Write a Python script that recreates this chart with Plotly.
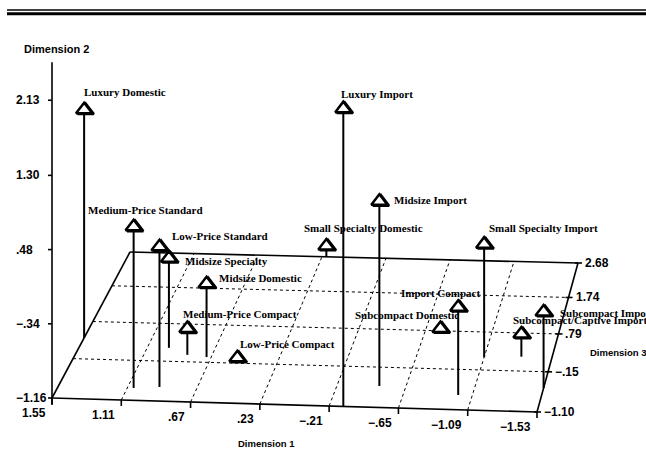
import plotly.graph_objects as go

# Car market segments positioned on three perceptual dimensions
segments = [
    "Luxury Domestic", "Medium-Price Standard", "Low-Price Standard", "Midsize Specialty",
    "Midsize Domestic", "Medium-Price Compact", "Low-Price Compact", "Luxury Import",
    "Midsize Import", "Small Specialty Domestic", "Small Specialty Import", "Import Compact",
    "Subcompact Domestic", "Subcompact Import", "Subcompact/Captive Import",
]
dim1 = [1.55, 1.07, 0.91, 0.97, 0.70, 0.83, 0.50, -0.30, -0.48, 0.20, -1.09, -1.00, -0.75, -1.53, -1.33]
dim2 = [1.36, 0.62, 0.39, -0.17, -0.35, -0.87, -1.16, 2.13, 0.88, -1.04, 0.09, -0.19, -1.13, -0.32, -0.91]
dim3 = [0.37, -0.81, -0.77, 0.18, -0.02, 0.02, -0.02, -1.10, -0.60, 2.68, 0.16, -0.76, 0.78, -0.54, 0.20]

dim1_ticks = [1.55, 1.11, 0.67, 0.23, -0.21, -0.65, -1.09, -1.53]
dim1_labels = ["1.55", "1.11", ".67", ".23", "\u2212.21", "\u2212.65", "\u22121.09", "\u22121.53"]
dim2_ticks = [2.13, 1.30, 0.48, -0.34, -1.16]
dim2_labels = ["2.13", "1.30", ".48", "\u2212.34", "\u22121.16"]
dim3_ticks = [-1.10, -0.15, 0.79, 1.74, 2.68]
dim3_labels = ["\u22121.10", "\u2212.15", ".79", "1.74", "2.68"]

# label placement relative to each marker (pixels: right, down)
label_shift = [(-2, -18), (-48, -17), (11, -11), (14, 3), (10, -6), (-6, -15), (1, -14), (-4, -15),
               (13, -1), (-24, -18), (3, -16), (-59, -14), (-87, -13), (14, 1), (-10, -14)]

D1_MIN, D1_MAX = min(dim1_ticks), max(dim1_ticks)
D2_MIN, D2_MAX = min(dim2_ticks), max(dim2_ticks)
D3_MIN, D3_MAX = min(dim3_ticks), max(dim3_ticks)

# oblique view of the floor (front-left, front-right, back-left, back-right), in page pixels
FL, FR, BL, BR = (52, 398), (537, 412), (130, 252), (578, 263)
DEPTH = 1.1        # foreshortening toward the back
Z_PX = 90.5        # pixels per unit of dimension 2


def floor_xy(d1, d3):
    u = (D1_MAX - d1) / (D1_MAX - D1_MIN)
    t = (d3 - D3_MIN) / (D3_MAX - D3_MIN)
    v = t * DEPTH / ((1 - t) + t * DEPTH)
    x = (1 - u) * (1 - v) * FL[0] + u * (1 - v) * FR[0] + (1 - u) * v * BL[0] + u * v * BR[0]
    y = (1 - u) * (1 - v) * FL[1] + u * (1 - v) * FR[1] + (1 - u) * v * BL[1] + u * v * BR[1]
    return x, y


def point_xy(d1, d2, d3):
    x, y = floor_xy(d1, d3)
    return x, y - (d2 - D2_MIN) * Z_PX


def seg_trace(segs, width, dash="solid"):
    xs, ys = [], []
    for (x0, y0), (x1, y1) in segs:
        xs += [x0, x1, None]
        ys += [y0, y1, None]
    return go.Scatter(x=xs, y=ys, mode="lines", hoverinfo="skip", showlegend=False,
                      line=dict(color="black", width=width, dash=dash))


fig = go.Figure()

# dotted floor grid
grid = []
for d in dim1_ticks[1:-1]:
    grid.append((floor_xy(d, D3_MIN), floor_xy(d, D3_MAX)))
for d in dim3_ticks[1:-1]:
    grid.append((floor_xy(D1_MAX, d), floor_xy(D1_MIN, d)))
fig.add_trace(seg_trace(grid, 1, "dot"))

# floor outline
corners = [floor_xy(D1_MAX, D3_MIN), floor_xy(D1_MIN, D3_MIN),
           floor_xy(D1_MIN, D3_MAX), floor_xy(D1_MAX, D3_MAX)]
outline = [(corners[i], corners[(i + 1) % 4]) for i in range(4)]
fig.add_trace(seg_trace(outline, 1.6))

# vertical axis with ticks
ax_x, ax_y0 = floor_xy(D1_MAX, D3_MIN)
axis = [((ax_x, ax_y0 + 7), (ax_x, ax_y0 - (D2_MAX - D2_MIN + 0.42) * Z_PX))]
for d in dim2_ticks:
    _, ty = point_xy(D1_MAX, d, D3_MIN)
    axis.append(((ax_x - 4, ty), (ax_x, ty)))
for d in dim1_ticks:
    tx, ty = floor_xy(d, D3_MIN)
    axis.append(((tx, ty), (tx, ty + 6)))
for d in dim3_ticks:
    tx, ty = floor_xy(D1_MIN, d)
    axis.append(((tx - 3, ty), (tx + 4, ty)))
fig.add_trace(seg_trace(axis, 1.6))

# needles from the floor up to each segment
base = [floor_xy(a, c) for a, c in zip(dim1, dim3)]
tops = [point_xy(a, b, c) for a, b, c in zip(dim1, dim2, dim3)]
fig.add_trace(seg_trace(list(zip(base, tops)), 2))

px = [p[0] for p in tops]
py = [p[1] for p in tops]
fig.add_trace(go.Scatter(x=[x + 1.6 for x in px], y=[y + 0.8 for y in py], mode="markers",
                         hoverinfo="skip", showlegend=False,
                         marker=dict(symbol="triangle-up", size=14, color="black",
                                     line=dict(color="black", width=2.5))))
fig.add_trace(go.Scatter(x=px, y=py, mode="markers", text=segments, hoverinfo="text",
                         showlegend=False,
                         marker=dict(symbol="triangle-up", size=14, color="white",
                                     line=dict(color="black", width=2.5))))

ann = []
label_font = dict(family="Liberation Serif", size=11, color="black", weight="bold")
for name, x, y, (dx, dy) in zip(segments, px, py, label_shift):
    ann.append(dict(x=x, y=y, xref="x", yref="y", text=name, showarrow=False,
                    xanchor="left", yanchor="middle", xshift=dx, yshift=-dy, font=label_font))

tick_font = dict(family="Liberation Sans", size=12, color="black", weight="bold")
for d, lab in zip(dim2_ticks, dim2_labels):
    _, ty = point_xy(D1_MAX, d, D3_MIN)
    ann.append(dict(x=ax_x, y=ty, xref="x", yref="y", text=lab, showarrow=False,
                    xanchor="left", yanchor="middle", xshift=-38, font=tick_font))
for d, lab in zip(dim1_ticks, dim1_labels):
    tx, ty = floor_xy(d, D3_MIN)
    ann.append(dict(x=tx, y=ty, xref="x", yref="y", text=lab, showarrow=False,
                    xanchor="right", yanchor="middle", xshift=-4, yshift=-15, font=tick_font))
for d, lab in zip(dim3_ticks, dim3_labels):
    tx, ty = floor_xy(D1_MIN, d)
    ann.append(dict(x=tx, y=ty, xref="x", yref="y", text=lab, showarrow=False,
                    xanchor="left", yanchor="middle", xshift=5, font=tick_font))

title_font = dict(family="Liberation Sans", size=9.5, color="black", weight="bold")
ann.append(dict(x=22, y=49, xref="x", yref="y", text="Dimension 2", showarrow=False,
                xanchor="left", yanchor="middle", font=dict(title_font, size=11)))
ann.append(dict(x=266, y=443, xref="x", yref="y", text="Dimension 1", showarrow=False,
                xanchor="center", yanchor="middle", font=title_font))
ann.append(dict(x=588, y=352, xref="x", yref="y", text="Dimension 3", showarrow=False,
                xanchor="left", yanchor="middle", font=title_font))

fig.update_layout(
    width=646, height=474, margin=dict(l=0, r=0, t=0, b=0),
    paper_bgcolor="white", plot_bgcolor="white",
    xaxis=dict(range=[0, 646], visible=False, fixedrange=True),
    yaxis=dict(range=[474, 0], visible=False, fixedrange=True),
    annotations=ann,
    shapes=[
        dict(type="line", xref="x", yref="y", x0=7, x1=646, y0=10, y1=10,
             line=dict(color="black", width=1.3)),
        dict(type="line", xref="x", yref="y", x0=7, x1=646, y0=13.8, y1=13.8,
             line=dict(color="black", width=3)),
    ],
)

fig.write_html("out.html")
